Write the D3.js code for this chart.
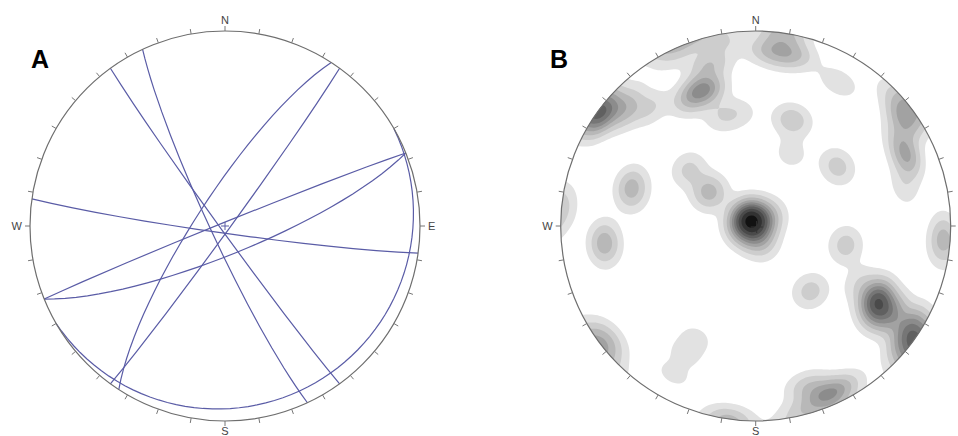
<!DOCTYPE html>
<html>
<head>
<meta charset="utf-8">
<script src="https://cdn.jsdelivr.net/npm/d3@7"></script>
<style>
  body { margin: 0; background: #fff; }
  svg { display: block; }
</style>
</head>
<body>
<svg id="chart" width="958" height="436"></svg>
<script>
// ---- Panel A: planes as great circles (dip direction / dip, degrees) ----
const planeDipDirections = [245, 234, 303, 126, 338, 158, 188, 150];
const planeDips          = [84,  88,  78,  88,  88.5, 78, 87,  8];

// ---- Panel B: poles to planes (trend / plunge, degrees) and their weights ----
const poleTrends = [
  332, 290, 77, 184, 254, 52, 160,          // central cluster
  306, 310,                                 // NW of centre
  288, 284,
  264, 262,
  276,                                      // W rim
  306, 311, 318, 339, 332, 344, 350, 338, 343, 352, 315, 333,  // NW group
  4, 13, 8, 9,                              // N
  30,
  19, 26,
  54,
  54, 65, 58, 46, 75,                       // NE rim
  94,                                       // E rim
  102,
  140,
  124, 121, 124, 123, 119, 130,             // SE group
  233, 232,                                 // SW rim
  208, 209, 209,                            // S streak
  157, 162, 151, 166,                       // S group
  188                                       // S rim
];
const polePlunges = [
  86, 85, 88, 86, 84, 82, 81,
  66, 53,
  33, 36,
  24, 20,
  3,
  3, 12, 20, 26, 28, 15, 5, 1, 41, 41, 8, 4,
  11, 11, 6, 14,
  16,
  42, 56,
  47,
  7, 16, 15, 3, 22,
  5,
  51,
  54,
  6, 29, 24, 17, 39, 3,
  1, 7,
  35, 26, 14,
  7, 15, 7, 3,
  1
];
const poleWeights = [
  3.2, 1.0, 1.0, 0.9, 0.7, 0.55, 0.45,
  1.2, 0.7,
  0.9, 0.45,
  1.0, 0.4,
  0.45,
  2.4, 0.9, 0.6, 1.9, 0.7, 0.9, 0.5, 0.4, 0.5, 0.35, 0.35, 0.35,
  0.7, 0.7, 0.5, 0.4,
  0.5,
  0.9, 0.4,
  0.8,
  1.3, 1.4, 0.45, 0.35, 0.45,
  1.1,
  0.8,
  0.8,
  2.0, 2.3, 1.8, 1.3, 0.5, 0.5,
  1.0, 0.5,
  0.35, 0.35, 0.35,
  1.5, 0.8, 0.6, 0.6,
  0.9
];
const contourLevels = [0.25, 0.6, 1.0, 1.45, 1.9, 2.4, 2.9, 3.5, 4.2, 5.0];
const contourGreys  = ["#e2e2e2", "#cdcdcd", "#b8b8b8", "#a2a2a2", "#8c8c8c",
                       "#767676", "#606060", "#4a4a4a", "#323232", "#121212"];

// ---- frame ----
const tickAngles = d3.range(0, 360, 10);
const cardinalAngles = [0, 90, 180, 270];
const cardinalNames  = ["N", "E", "S", "W"];
const panelNames = ["A", "B"];

const R = 195;
const centres = [[225, 226], [755.7, 226]];
const svg = d3.select("#chart");

// lower-hemisphere equal-area (Schmidt) net: trend t, plunge p -> [t, -p]
function schmidt([cx, cy]) {
  return d3.geoAzimuthalEqualArea()
    .rotate([0, 90])
    .scale(R / Math.SQRT2)
    .translate([cx, cy])
    .precision(0.1);
}

function drawFrame(g, proj, [cx, cy], showEast) {
  const out = (t, len) => {
    const p = proj([t, 0]);
    const k = (R + len) / R;
    return [cx + (p[0] - cx) * k, cy + (p[1] - cy) * k];
  };
  g.append("circle")
    .attr("cx", cx).attr("cy", cy).attr("r", R)
    .attr("fill", "none").attr("stroke", "#6e6e6e").attr("stroke-width", 1.2);
  g.selectAll("line.tick").data(tickAngles).join("line")
    .attr("class", "tick")
    .attr("x1", t => proj([t, 0])[0]).attr("y1", t => proj([t, 0])[1])
    .attr("x2", t => out(t, 5)[0]).attr("y2", t => out(t, 5)[1])
    .attr("stroke", "#777").attr("stroke-width", 1);
  const labels = cardinalAngles.map((t, i) => ({ t, name: cardinalNames[i] }))
    .filter(d => showEast || d.name !== "E");
  g.selectAll("text.card").data(labels).join("text")
    .attr("class", "card")
    .attr("font-family", "'Liberation Sans', Arial, sans-serif")
    .attr("font-size", 11)
    .attr("fill", "#444")
    .attr("text-anchor", d => d.t === 90 ? "start" : d.t === 270 ? "end" : "middle")
    .attr("x", d => {
      const p = out(d.t, 7);
      return d.t === 90 ? p[0] + 1 : d.t === 270 ? p[0] - 1 : p[0];
    })
    .attr("y", d => d.t === 0 ? out(0, 7)[1] :
                    d.t === 180 ? out(180, 13)[1] + 1 :
                    out(d.t, 7)[1] + 4)
    .text(d => d.name);
}

function drawCross(g, [cx, cy], arm, colour) {
  g.append("path")
    .attr("d", `M${cx - arm},${cy}H${cx + arm}M${cx},${cy - arm}V${cy + arm}`)
    .attr("stroke", colour).attr("stroke-width", 1).attr("fill", "none");
}

// ---------------- Panel A ----------------
const projA = schmidt(centres[0]);
const pathA = d3.geoPath(projA);
const gA = svg.append("g");
const planes = planeDipDirections.map((dd, i) => ({ dd, dip: planeDips[i] }));
gA.selectAll("path.plane").data(planes).join("path")
  .attr("class", "plane")
  .attr("d", d => pathA({
    type: "LineString",
    coordinates: [[d.dd - 90, 0], [d.dd, -d.dip], [d.dd + 90, 0]]
  }))
  .attr("fill", "none")
  .attr("stroke", "#5a5ca6")
  .attr("stroke-width", 1.2);
drawFrame(gA, projA, centres[0], true);
drawCross(gA, centres[0], 4, "#5a5ca6");

// ---------------- Panel B ----------------
const projB = schmidt(centres[1]);
const gB = svg.append("g");
const toVec = (lon, lat) => {
  const l = lon * Math.PI / 180, f = lat * Math.PI / 180;
  return [Math.cos(f) * Math.cos(l), Math.cos(f) * Math.sin(l), Math.sin(f)];
};
const poles = poleTrends.map((t, i) => ({ v: toVec(t, -polePlunges[i]), w: poleWeights[i] }));
const kappa = 135;

const cell = 2;
const n = Math.ceil(2 * (R + 6) / cell);
const gx0 = centres[1][0] - n * cell / 2;
const gy0 = centres[1][1] - n * cell / 2;
const density = new Float64Array(n * n);
for (let j = 0; j < n; j++) {
  for (let i = 0; i < n; i++) {
    const ll = projB.invert([gx0 + (i + 0.5) * cell, gy0 + (j + 0.5) * cell]);
    if (!ll || !isFinite(ll[0]) || !isFinite(ll[1])) continue;
    const u = toVec(ll[0], ll[1]);
    let s = 0;
    for (const p of poles) {
      const c = Math.abs(u[0] * p.v[0] + u[1] * p.v[1] + u[2] * p.v[2]);
      s += p.w * Math.exp(kappa * (c - 1));
    }
    density[i + j * n] = s;
  }
}
const bands = d3.contours().size([n, n]).thresholds(contourLevels)(density);
const gridToScreen = d3.geoTransform({
  point(x, y) { this.stream.point(gx0 + x * cell, gy0 + y * cell); }
});
const bandPath = d3.geoPath(gridToScreen);
const greyOf = d3.scaleOrdinal().domain(contourLevels).range(contourGreys);

svg.append("clipPath").attr("id", "netB")
  .append("circle").attr("cx", centres[1][0]).attr("cy", centres[1][1]).attr("r", R);
gB.append("g").attr("clip-path", "url(#netB)")
  .selectAll("path").data(bands).join("path")
  .attr("d", bandPath)
  .attr("fill", d => greyOf(d.value))
  .attr("stroke", "none");
drawFrame(gB, projB, centres[1], false);
drawCross(gB, [centres[1][0] + 1, centres[1][1] + 1], 6, "#333");

// ---------------- panel letters ----------------
svg.selectAll("text.panel").data(panelNames).join("text")
  .attr("class", "panel")
  .attr("x", (d, i) => i === 0 ? 31 : 550)
  .attr("y", 68)
  .attr("font-family", "'Liberation Sans', Arial, sans-serif")
  .attr("font-weight", "bold")
  .attr("font-size", 25)
  .attr("fill", "#000")
  .text(d => d);
</script>
</body>
</html>
